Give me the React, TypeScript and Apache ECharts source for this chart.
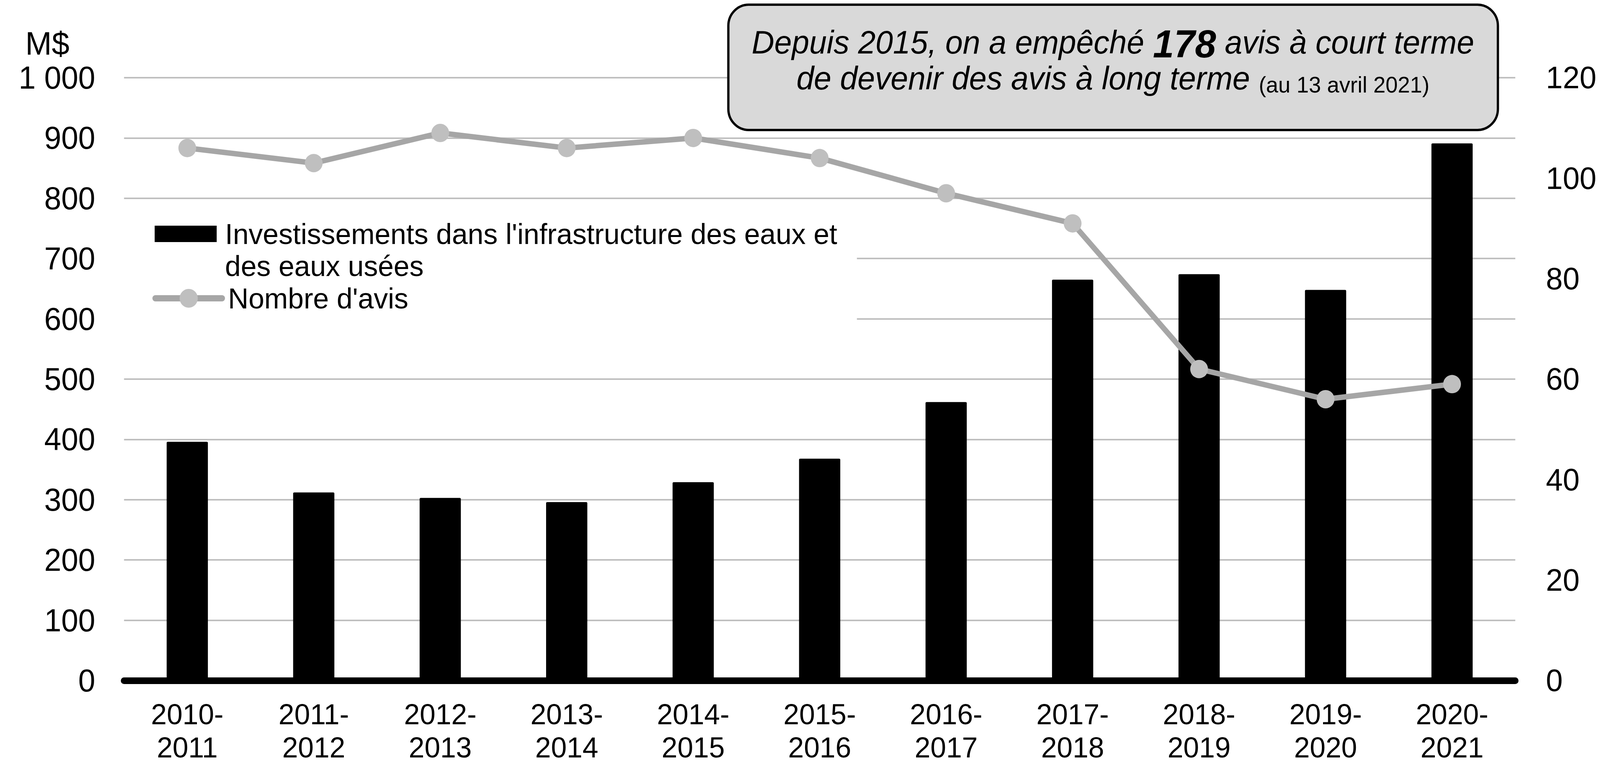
import React, { useEffect, useRef, useState } from 'react';
import * as echarts from 'echarts';

const categories = [
  '2010-\n2011', '2011-\n2012', '2012-\n2013', '2013-\n2014', '2014-\n2015', '2015-\n2016',
  '2016-\n2017', '2017-\n2018', '2018-\n2019', '2019-\n2020', '2020-\n2021',
];
const investissements = [396, 312, 303, 296, 329, 368, 462, 665, 674, 648, 891];
const nombreAvis = [106, 103, 109, 106, 108, 104, 97, 91, 62, 56, 59];
const leftTickLabels = ['0', '100', '200', '300', '400', '500', '600', '700', '800', '900', '1 000'];
const rightTickLabels = ['0', '20', '40', '60', '80', '100', '120'];

const barName = "Investissements dans l'infrastructure des eaux et des eaux usées";
const barLegendLines = ["Investissements dans l'infrastructure des eaux et", 'des eaux usées'];
const lineName = "Nombre d'avis";
const unitLabel = 'M$';

const FONT = '"Liberation Sans", Arial, Helvetica, sans-serif';
const DESIGN_W = 4231;
const DESIGN_H = 2008;

export default function App() {
  const ref = useRef<HTMLDivElement>(null);
  const [scale, setScale] = useState<[number, number]>([
    window.innerWidth / DESIGN_W,
    window.innerHeight / DESIGN_H,
  ]);

  useEffect(() => {
    const onResize = () => setScale([window.innerWidth / DESIGN_W, window.innerHeight / DESIGN_H]);
    window.addEventListener('resize', onResize);
    return () => window.removeEventListener('resize', onResize);
  }, []);

  useEffect(() => {
    if (!ref.current) return;
    const chart = echarts.init(ref.current, null, { renderer: 'svg' });
    chart.setOption({
      animation: false,
      backgroundColor: '#ffffff',
      textStyle: { fontFamily: FONT, color: '#000' },
      grid: { left: 328, right: 224, top: 199, bottom: 265, containLabel: false },
      legend: [
        {
          data: [{ name: barName, icon: 'rect' }],
          orient: 'vertical',
          left: 409,
          top: 476,
          padding: 0,
          itemWidth: 164,
          itemHeight: 42,
          selectedMode: false,
          // leading empty line keeps the first text line level with the icon
          formatter: () => '\n' + barLegendLines.join('\n'),
          textStyle: {
            fontFamily: FONT,
            fontSize: 75,
            lineHeight: 82,
            color: '#000',
            padding: [0, 0, 0, 17],
          },
          z: 6,
        },
        {
          data: [{ name: lineName }],
          orient: 'vertical',
          left: 403,
          top: 723,
          padding: 0,
          itemWidth: 176,
          itemHeight: 60,
          selectedMode: false,
          lineStyle: { width: 16, color: '#a6a6a6', cap: 'round' },
          itemStyle: { color: '#bfbfbf', borderWidth: 0 },
          textStyle: {
            fontFamily: FONT,
            fontSize: 75,
            lineHeight: 82,
            color: '#000',
            padding: [0, 0, 0, 11],
          },
          z: 6,
        },
      ],
      xAxis: {
        type: 'category',
        data: categories,
        axisTick: { show: false },
        axisLine: { show: true, lineStyle: { color: '#000', width: 17 } },
        axisLabel: {
          interval: 0,
          fontFamily: FONT,
          fontSize: 75,
          lineHeight: 85,
          color: '#000',
          margin: 44,
        },
        splitLine: { show: false },
      },
      yAxis: [
        {
          type: 'value',
          min: 0,
          max: 1000,
          interval: 100,
          axisLine: { show: false },
          axisTick: { show: false },
          axisLabel: {
            fontFamily: FONT,
            fontSize: 81,
            color: '#000',
            margin: 76,
            formatter: (_v: number, i: number) => leftTickLabels[i],
          },
          splitLine: { show: true, lineStyle: { color: '#bfbfbf', width: 4 } },
        },
        {
          type: 'value',
          min: 0,
          max: 120,
          interval: 20,
          position: 'right',
          axisLine: { show: false },
          axisTick: { show: false },
          axisLabel: {
            fontFamily: FONT,
            fontSize: 80,
            color: '#000',
            margin: 81,
            formatter: (_v: number, i: number) => rightTickLabels[i],
          },
          splitLine: { show: false },
        },
      ],
      series: [
        {
          name: barName,
          type: 'bar',
          data: investissements,
          barWidth: 109,
          itemStyle: { color: '#000000', borderRadius: [3, 3, 0, 0] },
          z: 2,
        },
        {
          name: lineName,
          type: 'line',
          yAxisIndex: 1,
          data: nombreAvis,
          symbol: 'circle',
          symbolSize: 47,
          lineStyle: { color: '#a6a6a6', width: 14, cap: 'round', join: 'round' },
          itemStyle: { color: '#bfbfbf', borderWidth: 0 },
          z: 3,
        },
      ],
      graphic: [
        {
          type: 'rect',
          z: 1,
          silent: true,
          shape: { x: 318, y: 532, width: 1948, height: 350 },
          style: { fill: '#ffffff' },
        },
        {
          type: 'text',
          z: 5,
          left: 67,
          top: 110 - 41,
          style: {
            text: unitLabel,
            font: `84px ${FONT}`,
            fill: '#000',
          },
        },
        {
          type: 'group',
          z: 10,
          children: [
            {
              type: 'rect',
              z: 10,
              shape: { x: 1926, y: 12, width: 2035, height: 321, r: 54 },
              style: { fill: '#d9d9d9', stroke: '#000', lineWidth: 6 },
            },
            {
              type: 'text',
              z: 11,
              x: 2943,
              y: 154,
              style: {
                text:
                  '{i|Depuis 2015, on a empêché }{b|178}{i| avis à court terme}\n' +
                  '{i|de devenir des avis à long terme }{s|(au 13 avril 2021)}',
                align: 'center',
                verticalAlign: 'middle',
                fill: '#000',
                rich: {
                  i: {
                    fontFamily: FONT,
                    fontStyle: 'italic',
                    fontSize: 83,
                    lineHeight: 92,
                    fill: '#000',
                  },
                  b: {
                    fontFamily: FONT,
                    fontStyle: 'italic',
                    fontWeight: 'bold',
                    fontSize: 100,
                    lineHeight: 80,
                    verticalAlign: 'top',
                    fill: '#000',
                  },
                  s: {
                    fontFamily: FONT,
                    fontSize: 58,
                    lineHeight: 75,
                    verticalAlign: 'bottom',
                    fill: '#000',
                  },
                },
              },
            },
          ],
        },
      ],
    });
    return () => chart.dispose();
  }, []);

  return (
    <div
      style={{
        position: 'fixed',
        left: 0,
        top: 0,
        width: '100vw',
        height: '100vh',
        overflow: 'hidden',
        background: '#ffffff',
      }}
    >
      <div
        ref={ref}
        style={{
          position: 'absolute',
          left: 0,
          top: 0,
          width: DESIGN_W,
          height: DESIGN_H,
          transformOrigin: '0 0',
          transform: `scale(${scale[0]}, ${scale[1]})`,
        }}
      />
    </div>
  );
}
